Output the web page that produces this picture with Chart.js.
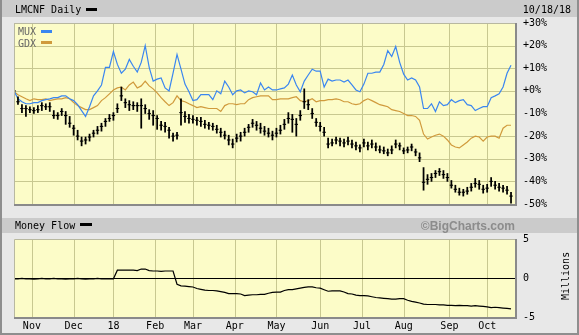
<!DOCTYPE html>
<html>
<head>
<meta charset="utf-8">
<script src="https://cdn.jsdelivr.net/npm/chart.js@4.4.0/dist/chart.umd.min.js"></script>
<style>
  html, body { margin: 0; padding: 0; background: #fff; }
  #wrap { position: relative; width: 579px; height: 335px; background: #e8e8e8; overflow: hidden;
          font-family: 'DejaVu Sans Mono', monospace; font-size: 10px; line-height: 12px; color: #000; }
  .band { position: absolute; left: 0; width: 579px; background: #cbcbcb; }
  .txt { position: absolute; white-space: nowrap; }
  .swatch { position: absolute; height: 3px; width: 11px; }
  canvas { position: absolute; left: 0; }
  .edge { position: absolute; background: #8e8e8e; z-index: 5; }
</style>
</head>
<body>
<div id="wrap">
  <div class="band" style="top:0;height:17px"></div>
  <div class="band" style="top:218px;height:15px"></div>

  <canvas id="priceChart" width="579" height="218" style="top:0"></canvas>
  <canvas id="flowChart" width="579" height="117" style="top:218px"></canvas>

  <div class="txt" style="left:15px;top:4px">LMCNF Daily</div>
  <div class="swatch" style="left:86px;top:8px;background:#000"></div>
  <div class="txt" style="right:8px;top:4px">10/18/18</div>

  <div class="txt" style="left:18px;top:26px;color:#666">MUX</div>
  <div class="swatch" style="left:41px;top:30px;background:#3a86f0"></div>
  <div class="txt" style="left:18px;top:38px;color:#666">GDX</div>
  <div class="swatch" style="left:41px;top:41px;background:#d09a3c"></div>

  <div class="txt" style="left:15px;top:220px">Money Flow</div>
  <div class="swatch" style="left:80px;top:223px;width:12px;background:#000"></div>
  <div class="txt" style="right:64px;top:219px;font:bold 12px 'Liberation Sans',Arial,sans-serif;color:#8c8c8c">©BigCharts.com</div>
  <div class="txt" style="left:542px;top:270px;width:48px;text-align:center;transform:rotate(-90deg)">Millions</div>

  <div class="edge" style="left:0;top:0;width:2px;height:335px"></div>
  <div class="edge" style="right:0;top:0;width:2px;height:335px"></div>
  <div class="edge" style="left:0;bottom:0;width:579px;height:2px"></div>
</div>

<script>
// samples every 2 trading days, day 0 = 19 Oct 2017
const STEP = 2;
const dayCount = 252;

const monthLabels = ['Nov', 'Dec', '18', 'Feb', 'Mar', 'Apr', 'May', 'Jun', 'Jul', 'Aug', 'Sep', 'Oct'];
const monthStartDay = [9, 30, 50, 71, 90, 111, 132, 154, 175, 196, 219, 238];

const pctTickValues = [30, 20, 10, 0, -10, -20, -30, -40, -50];
const pctTickLabels = ['+30%', '+20%', '+10%', '+0%', '-10%', '-20%', '-30%', '-40%', '-50%'];
const flowTickValues = [5, 0, -5];
const flowTickLabels = ['5', '0', '-5'];

// LMCNF daily bars, % change
const closes = [
  0.0, -4.8, -7.8, -7.8, -8.3, -8.7, -8.3, -6.5, -7.0, -7.0,
  -10.9, -10.9, -9.1, -10.9, -14.3, -16.5, -20.0, -22.2, -21.7, -20.4,
  -18.7, -17.4, -15.7, -13.5, -12.2, -10.9, -7.8, -2.2, -5.2, -6.1,
  -6.5, -6.5, -6.5, -7.8, -10.0, -10.9, -12.2, -15.2, -15.7, -17.4,
  -20.0, -19.6, -9.6, -11.3, -12.2, -12.6, -13.0, -13.5, -14.8, -15.2,
  -15.7, -17.0, -18.3, -19.6, -21.7, -23.5, -20.9, -20.0, -18.3, -16.1,
  -14.3, -15.2, -16.5, -17.8, -18.7, -19.6, -18.7, -17.4, -14.8, -12.2,
  -12.6, -14.8, -10.9, -4.8, -6.1, -10.0, -13.9, -15.7, -18.3, -23.5,
  -23.0, -21.7, -22.2, -23.0, -22.2, -23.5, -24.3, -25.2, -23.0, -24.3,
  -23.5, -24.8, -26.1, -26.5, -27.4, -26.1, -23.5, -24.3, -26.5, -26.1,
  -24.8, -27.0, -29.6, -40.4, -39.1, -38.3, -36.5, -35.7, -37.0, -38.3,
  -41.7, -43.5, -44.8, -44.8, -44.3, -42.6, -40.9, -41.3, -43.5, -43.0,
  -40.0, -41.7, -42.6, -43.0, -43.9, -46.5
];
const highs = [
  1.0, -2.6, -6.1, -6.5, -7.0, -7.4, -6.5, -5.2, -5.7, -5.2,
  -8.7, -9.6, -7.8, -9.1, -11.3, -15.2, -17.4, -20.4, -20.4, -19.1,
  -17.4, -15.7, -14.3, -12.2, -10.4, -9.6, -5.7, 1.7, -3.5, -4.3,
  -4.8, -5.2, -3.5, -6.1, -8.3, -8.7, -10.9, -13.5, -13.9, -16.1,
  -18.7, -18.3, -3.5, -9.1, -10.4, -10.9, -11.7, -11.7, -13.0, -13.9,
  -14.3, -15.2, -16.5, -17.8, -19.6, -21.3, -19.1, -18.3, -16.5, -14.8,
  -12.6, -13.5, -14.3, -15.7, -16.5, -17.8, -16.5, -15.2, -12.6, -9.6,
  -10.4, -12.2, -8.7, 0.9, -3.9, -7.8, -12.2, -13.9, -16.1, -20.9,
  -21.3, -20.4, -20.9, -21.3, -20.4, -21.7, -22.6, -23.9, -21.3, -22.6,
  -21.7, -23.0, -24.3, -24.8, -25.7, -24.3, -21.7, -23.0, -25.2, -24.8,
  -23.5, -25.7, -27.4, -33.9, -37.0, -36.5, -35.2, -34.3, -35.2, -36.5,
  -39.6, -41.7, -43.0, -43.5, -42.6, -40.9, -38.7, -39.6, -41.7, -41.3,
  -38.3, -40.0, -40.9, -41.7, -42.2, -44.8
];
const lows = [
  -2.0, -6.0, -9.6, -11.3, -9.6, -10.0, -9.6, -8.7, -8.3, -9.1,
  -12.2, -12.6, -10.9, -14.8, -16.1, -19.6, -21.7, -24.3, -23.5, -22.2,
  -20.4, -19.1, -17.8, -15.7, -13.5, -13.0, -9.6, -4.3, -7.4, -8.7,
  -8.3, -9.1, -16.5, -10.0, -12.6, -15.2, -17.0, -17.4, -18.3, -20.9,
  -22.2, -21.3, -15.2, -13.9, -14.3, -14.3, -15.2, -15.7, -16.5, -17.0,
  -17.4, -18.7, -20.4, -21.3, -23.9, -25.2, -22.6, -22.2, -20.0, -18.3,
  -16.1, -17.4, -18.7, -19.6, -20.4, -21.7, -20.4, -19.1, -17.0, -14.3,
  -18.3, -20.0, -13.0, -7.8, -8.3, -12.2, -15.7, -17.8, -20.0, -25.2,
  -24.3, -23.5, -24.3, -24.8, -23.9, -25.2, -26.1, -27.0, -24.8, -26.1,
  -25.2, -26.5, -27.4, -27.8, -28.7, -27.8, -25.2, -26.1, -27.8, -27.4,
  -26.5, -28.7, -31.3, -43.9, -41.3, -40.0, -38.3, -37.4, -38.7, -40.0,
  -43.0, -44.8, -46.1, -46.5, -45.7, -44.3, -42.6, -43.5, -45.2, -44.8,
  -42.2, -43.5, -44.3, -44.8, -45.7, -49.6
];

const mux = [
  0.0, -3.5, -4.8, -5.7, -5.7, -5.2, -5.2, -4.3, -3.9, -3.5,
  -3.0, -3.0, -2.2, -2.2, -3.5, -4.3, -6.1, -8.7, -11.3, -7.0,
  -2.2, 0.0, 2.6, 10.4, 10.4, 17.4, 11.7, 7.8, 9.6, 13.9,
  10.9, 8.3, 12.6, 20.0, 10.4, 4.3, 5.2, 5.7, 1.3, 0.0,
  7.8, 16.1, 9.6, 3.0, -0.4, -4.3, -3.9, -1.7, -1.7, -1.7,
  -3.9, 0.0, -1.3, 4.3, 1.7, -1.7, 0.0, 0.4, -0.9, 0.0,
  -0.4, -1.7, 3.5, 0.4, 1.7, 0.4, 0.4, 0.9, 1.3, 3.0,
  7.0, 2.6, -0.4, 4.3, 7.0, 9.6, 8.7, 8.7, 1.7, 5.2,
  4.3, 4.8, 4.8, 3.9, 4.8, 2.6, 0.4, -0.4, 3.0, 7.8,
  7.8, 8.3, 8.3, 11.7, 17.8, 15.2, 19.6, 12.6, 7.4, 4.8,
  5.7, 4.8, 1.7, -7.8, -7.8, -5.7, -9.1, -4.8, -6.5, -6.1,
  -3.9, -5.2, -4.3, -3.9, -6.1, -6.5, -8.7, -7.8, -7.0, -7.0,
  -3.0, -2.2, -1.3, 1.7, 7.8, 11.3
];
const gdx = [
  -0.4, -1.7, -2.6, -3.5, -4.3, -3.5, -3.9, -3.9, -3.5, -4.3,
  -3.9, -3.5, -3.5, -3.0, -3.5, -5.2, -6.5, -7.4, -8.3, -8.3,
  -7.4, -6.5, -4.3, -3.0, -1.3, 0.4, 1.3, 1.7, 0.4, 2.6,
  3.9, 1.3, 2.2, 4.3, 2.2, 0.9, -0.9, -3.0, -4.8, -6.5,
  -5.2, -2.2, -4.3, -4.8, -5.7, -6.5, -7.4, -7.0, -7.4, -7.8,
  -7.8, -7.8, -9.1, -6.5, -5.7, -5.7, -6.1, -5.7, -5.7, -3.9,
  -3.0, -2.6, -2.2, -2.2, -2.2, -3.9, -3.9, -3.5, -3.5, -3.5,
  -3.0, -2.6, -4.3, -4.8, -4.3, -3.5, -4.8, -4.3, -4.3, -3.9,
  -3.9, -3.5, -3.9, -4.8, -4.8, -5.7, -6.1, -5.7, -4.3, -3.5,
  -4.3, -5.2, -6.1, -6.5, -7.0, -8.3, -8.7, -9.1, -10.0, -10.9,
  -10.9, -11.3, -13.0, -19.1, -21.3, -20.4, -19.6, -19.1, -20.0, -21.7,
  -23.9, -24.8, -25.2, -23.9, -22.6, -20.9, -20.0, -20.4, -22.2, -20.4,
  -20.0, -20.0, -20.9, -16.5, -15.2, -15.2
];

// money flow, millions
const moneyFlow = [
  -0.1, -0.1, -0.05, -0.1, -0.1, -0.15, -0.1, -0.05, -0.1, -0.1,
  -0.05, -0.1, -0.1, -0.15, -0.1, -0.1, -0.05, -0.1, -0.15, -0.1,
  -0.1, -0.05, -0.1, -0.1, -0.1, -0.1, 1.0, 1.0, 1.0, 1.0,
  1.0, 0.95, 1.15, 1.15, 0.95, 0.9, 0.9, 0.85, 0.9, 0.9,
  0.9, -0.8, -1.0, -1.05, -1.1, -1.15, -1.35, -1.45, -1.55, -1.6,
  -1.6, -1.65, -1.75, -1.85, -2.0, -2.0, -2.0, -2.05, -2.25, -2.2,
  -2.15, -2.15, -2.1, -2.1, -1.95, -1.85, -1.8, -1.8, -1.6, -1.5,
  -1.5, -1.4, -1.3, -1.2, -1.15, -1.15, -1.25, -1.3, -1.5, -1.7,
  -1.65, -1.65, -1.65, -1.8, -2.0, -2.05, -2.2, -2.25, -2.25, -2.3,
  -2.4, -2.5, -2.55, -2.6, -2.65, -2.7, -2.7, -2.65, -2.65, -2.85,
  -3.0, -3.1, -3.2, -3.35, -3.4, -3.4, -3.4, -3.45, -3.45, -3.5,
  -3.5, -3.55, -3.5, -3.55, -3.55, -3.6, -3.55, -3.6, -3.65, -3.7,
  -3.8, -3.75, -3.8, -3.85, -3.9, -3.97
];

const GRID = '#c8c890';
const PLOT_BG = '#fcfcc8';
const tickFont = { family: "'DejaVu Sans Mono', monospace", size: 10 };

const xy = arr => arr.map((v, i) => ({ x: i * STEP, y: v }));

// yellow plot area, grid from the scales' ticks, sunken frame
const plotFrame = {
  id: 'plotFrame',
  beforeDraw(chart, args, opts) {
    const { ctx, chartArea: a, scales } = chart;
    ctx.save();
    ctx.fillStyle = PLOT_BG;
    ctx.fillRect(a.left, a.top, a.right - a.left, a.bottom - a.top);
    ctx.lineWidth = 1;
    ctx.strokeStyle = GRID;
    ctx.beginPath();
    scales.x.ticks.forEach(t => {
      const px = Math.round(scales.x.getPixelForValue(t.value)) + 0.5;
      ctx.moveTo(px, a.top);
      ctx.lineTo(px, a.bottom);
    });
    if (opts.hGrid) {
      scales.y.ticks.forEach(t => {
        const py = Math.round(scales.y.getPixelForValue(t.value)) + 0.5;
        ctx.moveTo(a.left, py);
        ctx.lineTo(a.right, py);
      });
    }
    ctx.stroke();
    if (opts.zeroLine) {
      const py = Math.round(scales.y.getPixelForValue(0)) + 0.5;
      ctx.strokeStyle = '#000';
      ctx.beginPath();
      ctx.moveTo(a.left, py);
      ctx.lineTo(a.right, py);
      ctx.stroke();
    }
    ctx.restore();
  },
  afterDraw(chart) {
    const { ctx, chartArea: a } = chart;
    ctx.save();
    ctx.lineWidth = 1;
    ctx.strokeStyle = '#b8b8a0';
    ctx.beginPath();
    ctx.moveTo(a.left + 0.5, a.bottom);
    ctx.lineTo(a.left + 0.5, a.top + 0.5);
    ctx.lineTo(a.right, a.top + 0.5);
    ctx.stroke();
    ctx.strokeStyle = '#8a8a8a';
    ctx.lineWidth = 2;
    ctx.beginPath();
    ctx.moveTo(a.left, a.bottom + 1);
    ctx.lineTo(a.right + 1, a.bottom + 1);
    ctx.lineTo(a.right + 1, a.top);
    ctx.stroke();
    ctx.restore();
  }
};

function xAxis(showLabels) {
  return {
    type: 'linear',
    min: 0,
    max: dayCount,
    offset: false,
    afterBuildTicks: s => { s.ticks = monthStartDay.map(v => ({ value: v })); },
    afterFit: s => { s.height = showLabels ? 18 : 11; },
    grid: { display: false, drawTicks: false },
    border: { display: false },
    ticks: {
      display: showLabels,
      autoSkip: false,
      maxRotation: 0,
      padding: 3,
      color: '#000',
      font: tickFont,
      callback: (v, i) => monthLabels[i]
    }
  };
}

function yAxis(values, labels, min, max) {
  return {
    position: 'right',
    min: min,
    max: max,
    afterBuildTicks: s => { s.ticks = values.map(v => ({ value: v })); },
    afterFit: s => { s.width = 64; },
    grid: { display: false, drawTicks: false },
    border: { display: false },
    ticks: {
      padding: 8,
      color: '#000',
      font: tickFont,
      callback: (v, i) => labels[i]
    }
  };
}

const baseOptions = {
  responsive: false,
  animation: false,
  devicePixelRatio: 1,
  events: []
};

new Chart(document.getElementById('priceChart'), {
  type: 'line',
  data: {
    datasets: [
      {
        type: 'bar',
        label: 'LMCNF',
        data: lows.map((lo, i) => ({ x: i * STEP, y: [lo, highs[i]] })),
        backgroundColor: '#000',
        barThickness: 1.1,
        grouped: false
      },
      {
        label: 'close',
        data: xy(closes),
        showLine: false,
        pointStyle: 'line',
        pointRadius: 1.7,
        pointBorderWidth: 1.1,
        borderColor: '#000'
      },
      {
        label: 'MUX',
        data: xy(mux),
        borderColor: '#3a86f0',
        borderWidth: 1.2,
        pointRadius: 0,
        tension: 0
      },
      {
        label: 'GDX',
        data: xy(gdx),
        borderColor: '#d09a3c',
        borderWidth: 1.2,
        pointRadius: 0,
        tension: 0
      }
    ]
  },
  options: {
    ...baseOptions,
    layout: { autoPadding: false, padding: { left: 14, top: 23, right: 0, bottom: 0 } },
    plugins: { legend: { display: false }, tooltip: { enabled: false }, plotFrame: { hGrid: true } },
    scales: {
      x: xAxis(false),
      y: yAxis(pctTickValues, pctTickLabels, -50, 30)
    }
  },
  plugins: [plotFrame]
});

new Chart(document.getElementById('flowChart'), {
  type: 'line',
  data: {
    datasets: [
      {
        label: 'Money Flow',
        data: xy(moneyFlow),
        borderColor: '#000',
        borderWidth: 1.2,
        pointRadius: 0,
        tension: 0
      }
    ]
  },
  options: {
    ...baseOptions,
    layout: { autoPadding: false, padding: { left: 14, top: 21, right: 0, bottom: 0 } },
    plugins: { legend: { display: false }, tooltip: { enabled: false }, plotFrame: { zeroLine: true } },
    scales: {
      x: xAxis(true),
      y: yAxis(flowTickValues, flowTickLabels, -5, 5)
    }
  },
  plugins: [plotFrame]
});
</script>
</body>
</html>
